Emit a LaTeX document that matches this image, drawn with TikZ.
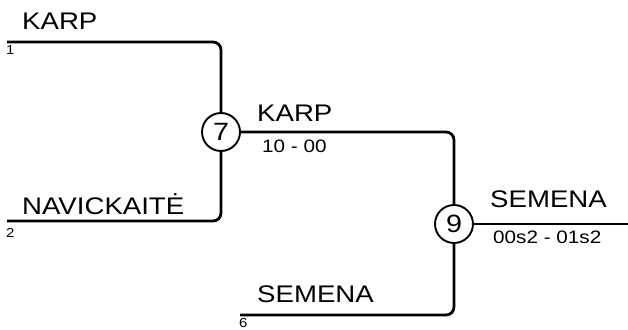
\documentclass[tikz,border=0pt]{standalone}
\usepackage{fontspec}
\setmainfont{Liberation Sans}[FakeStretch=1.15]
\begin{document}
\begin{tikzpicture}[x=1pt,y=1pt,
  wire/.style={line width=2.8pt, rounded corners=8pt},
  matchc/.style={circle, draw, line width=1.9pt, minimum size=38pt, inner sep=0pt, font=\fontsize{25}{25}\selectfont},
  player/.style={inner sep=0pt, anchor=base west, font=\fontsize{24}{24}\selectfont},
  seed/.style={inner sep=0pt, anchor=base west, font=\fontsize{13}{13}\selectfont},
  score/.style={inner sep=0pt, anchor=base west, font=\fontsize{18}{18}\selectfont}]
\useasboundingbox (0,0) rectangle (628,329);
% match circles
\node[matchc] (c7) at (221,197) {7};
\node[matchc] (c9) at (454,105) {9};
% line starts/ends
\coordinate (s1) at (7,287);
\coordinate (s2) at (7,108);
\coordinate (s6) at (240,14);
\coordinate (out) at (628,105);
% connectors
\draw[wire] (s1) -| (c7);
\draw[wire] (s2) -| (c7);
\draw[wire] (c7) -| (c9);
\draw[wire] (s6) -| (c9);
\draw[wire] (c9) -- (out);
% labels
\node[player] (n1) at (22,299) {KARP};
\node[seed] (d1) at (6,274) {1};
\node[player] (n2) at (22,114) {NAVICKAITĖ};
\node[seed] (d2) at (6,91) {2};
\node[player] (n7) at (257,207) {KARP};
\node[score] (r7) at (262,176) {10 - 00};
\node[player] (n9) at (490,121) {SEMENA};
\node[score] (r9) at (493,85) {00s2 - 01s2};
\node[player] (n6) at (257,27) {SEMENA};
\node[seed] (d6) at (239,2) {6};
\end{tikzpicture}
\end{document}
